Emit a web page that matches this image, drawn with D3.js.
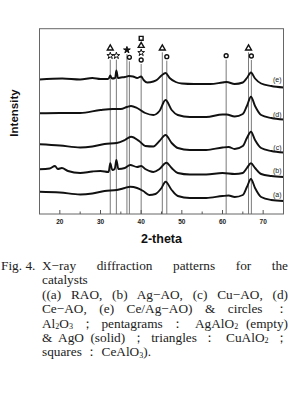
<!DOCTYPE html>
<html>
<head>
<meta charset="utf-8">
<script src="https://cdn.jsdelivr.net/npm/d3@7"></script>
<style>
  body { margin: 0; background: #fff; width: 289px; height: 401px; overflow: hidden; position: relative; }
  #cap { position: absolute; left: 0; top: 259px; width: 288px; font-family: "Liberation Serif", "DejaVu Serif", serif;
         font-size: 13.3px; line-height: 14.4px; color: #222; }
  .ln { text-align: justify; text-align-last: justify; padding-left: 42px; height: 14.4px; position: relative; }
  .left { text-align: left; text-align-last: left; }
  .hang { position: absolute; left: 1px; top: 0; }
  .sb { font-size: 8px; position: relative; top: 1.5px; line-height: 0; }
</style>
</head>
<body>
<script>
// XRD patterns, intensity in arbitrary units (curves are offset)
const traceA = [[15,22.3],[20,21.5],[25,19.5],[28,20.5],[31,23],[34,24],[36,26],[37.3,27.3],[39,26],[40.5,23],[42,19],[43.5,20],[45,26],[46,32.3],[47.5,24],[49,18],[52,16],[56,16],[60,18],[61.5,18.5],[63,17],[65,19],[66,27],[67,35],[68,26],[69.5,17],[72,14],[75,13]]
const traceB = [[15,44.7],[17.5,45.5],[18.8,48],[19.5,45],[20.5,46],[22,43],[25,41],[28,42.5],[30,43],[32,42],[32.4,50.7],[32.9,44],[33.5,45],[33.9,54],[34.4,45],[36,46],[37.3,49],[39,47],[40,48],[41,45],[43,42],[44.5,45],[46.2,51.3],[47.5,46],[49,41],[52,39.5],[56,39.5],[60,41],[63,40],[65,41],[66,46],[67,50.7],[68,46],[69.5,40],[72,38],[75,37]]
const traceC = [[15,69.7],[20,68.5],[25,66.5],[28,67.5],[31,70],[34,71],[36,74],[37.5,77.3],[39.5,73],[41,68],[43,67.5],[44.5,73],[46,79],[47.5,71],[49,66],[52,64],[56,64],[60,66.5],[61.5,67],[63,65],[65,68],[66,76],[67,82.3],[68,74],[69.5,66],[72,63],[75,61.5]]
const traceD = [[15,100.7],[20,101],[25,101],[30,104],[33,105],[35,105],[36.5,107],[37.5,108],[39,106],[41,101],[43,99],[44.5,103],[46,114],[47.5,104],[49,99],[52,97],[56,97],[60,99.5],[61,99.5],[63,97.5],[65,100],[66,108],[67,117.3],[68,108],[69.5,99],[72,96],[75,94.5]]
const traceE = [[15,134.5],[20.6,135.5],[25,134.5],[28,136],[30,135],[31.8,135],[32.1,136],[32.4,138.5],[32.8,135.5],[33.6,136],[33.9,143.5],[34.3,136],[35,136.5],[36,137],[37,138],[38,137.5],[39,136],[40,137.5],[40.6,134],[41.5,131.5],[43,132.5],[44,134.5],[45,138.5],[46,141],[47,136],[48.5,132],[50,130.5],[53,130],[57,130],[60,131.5],[61,132],[63,130],[65,131.5],[66,136],[67,141.5],[68,135.5],[69.5,130.5],[72,128],[75,126.5]]
const traceNames = ["(a)", "(b)", "(c)", "(d)", "(e)"]
const labelLevels = [18.5, 42.5, 66, 99, 134]

// reference peak positions (2-theta)
const refLines = [32.4, 33.9, 36.5, 37.1, 40.0, 45.2, 46.3, 60.9, 66.4, 67.1]
// phase markers: position, symbol, solid?, height
const markerPos   = [32.4, 32.4, 33.9, 36.5, 37.1, 40.0, 40.0, 40.0, 40.0, 45.2, 46.3, 60.9, 66.4, 67.1]
const markerShape = ["triangle","star","star","star","circle","square","triangle","star","circle","triangle","circle","circle","triangle","circle"]
const markerSolid = [false, false, false, true, false, false, false, false, false, false, false, false, false, false]
const markerLevel = [165.7, 158.3, 158.3, 164, 156.7, 175.7, 168.3, 161.3, 154, 165.7, 157.3, 158.3, 165.7, 158]

const xTicks = [20, 30, 40, 50, 60, 70]
const xMinor = [25, 35, 45, 55, 65]

const margin = {top: 28.7, right: 5.5, bottom: 187, left: 39.5},
      width = 289 - margin.left - margin.right,
      height = 401 - margin.top - margin.bottom

const svg = d3.select("body").append("svg")
    .attr("width", 289).attr("height", 401)
    .style("position", "absolute").style("left", 0).style("top", 0)

const g = svg.append("g")
    .attr("transform", `translate(${margin.left},${margin.top})`)

const x = d3.scaleLinear().domain([15, 75]).range([0, width])
const y = d3.scaleLinear().domain([0, 185.3]).range([height, 0])

g.append("clipPath").attr("id", "clip")
  .append("rect").attr("width", width).attr("height", height)

// vertical reference lines, starting just under the lowest marker at each position
const refG = g.append("g")
refLines.forEach(p => {
    const lows = markerLevel.filter((l, i) => markerPos[i] === p)
    refG.append("line")
        .attr("x1", x(p)).attr("x2", x(p))
        .attr("y1", y(d3.min(lows)) + 4).attr("y2", height)
        .attr("stroke", "#7a7a7a").attr("stroke-width", 1)
})

// traces
const line = d3.line().x(d => x(d[0])).y(d => y(d[1])).curve(d3.curveMonotoneX)
const traces = [traceA, traceB, traceC, traceD, traceE]
g.append("g").attr("clip-path", "url(#clip)")
  .selectAll("path").data(traces).enter().append("path")
    .attr("d", line)
    .attr("fill", "none").attr("stroke", "#111")
    .attr("stroke-width", 1.9).attr("stroke-linejoin", "round")

// trace labels
g.selectAll(".tl").data(traceNames).enter().append("text")
    .attr("x", width - 2).attr("y", (d, i) => y(labelLevels[i]))
    .attr("text-anchor", "end").attr("dominant-baseline", "middle")
    .style("font-family", "Liberation Sans, Arial, sans-serif")
    .style("font-size", "7px").attr("fill", "#222")
    .text(d => d)

// markers
const symbolOf = {triangle: d3.symbolTriangle, star: d3.symbolStar, circle: d3.symbolCircle, square: d3.symbolSquare}
const sizeOf = {triangle: 15, star: 14, circle: 12, square: 15}
markerPos.forEach((p, i) => {
    const s = markerShape[i]
    g.append("path")
        .attr("d", d3.symbol(symbolOf[s], sizeOf[s])())
        .attr("transform", `translate(${x(p)},${y(markerLevel[i])})`)
        .attr("fill", markerSolid[i] ? "#111" : "#fff")
        .attr("stroke", "#111").attr("stroke-width", s === "star" ? 1 : 1.4)
})

// frame
g.append("rect").attr("width", width).attr("height", height)
    .attr("fill", "none").attr("stroke", "#666").attr("stroke-width", 1)

// x axis ticks (inside)
g.selectAll(".mt").data(xTicks).enter().append("line")
    .attr("x1", d => x(d)).attr("x2", d => x(d))
    .attr("y1", height).attr("y2", height - 4).attr("stroke", "#555")
g.selectAll(".nt").data(xMinor).enter().append("line")
    .attr("x1", d => x(d)).attr("x2", d => x(d))
    .attr("y1", height).attr("y2", height - 2.5).attr("stroke", "#555")
g.selectAll(".tk").data(xTicks).enter().append("text")
    .attr("x", d => x(d)).attr("y", height + 8)
    .attr("text-anchor", "middle").attr("dominant-baseline", "middle")
    .style("font-family", "Liberation Sans, Arial, sans-serif")
    .style("font-size", "6.5px").style("font-weight", "bold").attr("fill", "#222")
    .text(d => d)

// axis titles
g.append("text")
    .attr("x", width / 2).attr("y", height + 25.5)
    .attr("text-anchor", "middle").attr("dominant-baseline", "middle")
    .style("font-family", "Liberation Sans, Arial, sans-serif")
    .style("font-size", "12.5px").style("font-weight", "bold").attr("fill", "#111")
    .text("2-theta")
g.append("text")
    .attr("transform", `translate(${15 - margin.left},${113 - margin.top}) rotate(-90)`)
    .attr("text-anchor", "middle").attr("dominant-baseline", "middle")
    .style("font-family", "Liberation Sans, Arial, sans-serif")
    .style("font-size", "11.5px").style("font-weight", "bold").attr("fill", "#111")
    .text("Intensity")

// caption
const sub = n => `<span class="sb">${n}</span>`
const capLines = [
  {t: "X−ray diffraction patterns for the", c: "ln", hang: "Fig. 4."},
  {t: "catalysts", c: "ln left"},
  {t: "((a) RAO, (b) Ag−AO, (c) Cu−AO, (d)", c: "ln"},
  {t: "Ce−AO, (e) Ce/Ag−AO) &amp; circles ：", c: "ln"},
  {t: `Al${sub(2)}O${sub(3)} ； pentagrams ： AgAlO${sub(2)} (empty)`, c: "ln"},
  {t: `&amp; AgO (solid) ； triangles ： CuAlO${sub(2)} ；`, c: "ln"},
  {t: `squares ： CeAlO${sub(3)}).`, c: "ln left"}
]
const rows = d3.select("body").append("div").attr("id", "cap")
  .selectAll("div").data(capLines).enter().append("div")
    .attr("class", d => d.c)
rows.filter(d => d.hang).append("span").attr("class", "hang").text(d => d.hang)
rows.append("span").html(d => d.t)
</script>
</body>
</html>
